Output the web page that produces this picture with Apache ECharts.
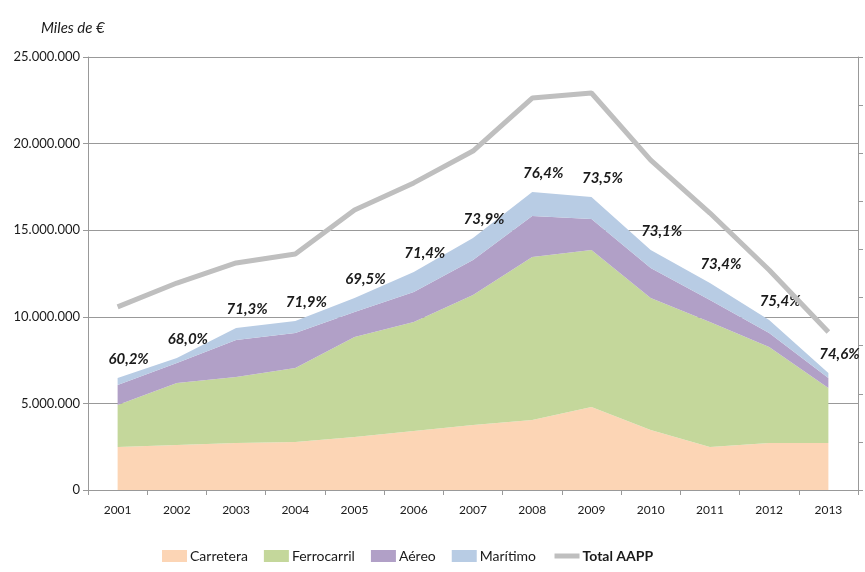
<!DOCTYPE html>
<html>
<head>
<meta charset="utf-8">
<script src="https://cdn.jsdelivr.net/npm/echarts@6/dist/echarts.min.js"></script>
<style>
  html, body { margin: 0; padding: 0; background: #fff; }
  #main { width: 865px; height: 572px; }
</style>
</head>
<body>
<div id="main"></div>
<script>
// years on the x axis
var years = ['2001', '2002', '2003', '2004', '2005', '2006', '2007', '2008', '2009', '2010', '2011', '2012', '2013'];

// miles de euros
var carretera   = [2480000, 2600000, 2710000, 2770000, 3060000, 3410000, 3750000, 4040000, 4790000, 3460000, 2480000, 2710000, 2710000];
var ferrocarril = [2430000, 3580000, 3810000, 4270000, 5770000, 6290000, 7510000, 9410000, 9070000, 7630000, 7220000, 5550000, 3180000];
var aereo       = [1150000, 1150000, 2140000, 2020000, 1450000, 1730000, 2020000, 2370000, 1790000, 1730000, 1270000, 800000, 580000];
var maritimo    = [410000, 290000, 690000, 700000, 810000, 1160000, 1270000, 1390000, 1270000, 1040000, 980000, 760000, 290000];
var totalAAPP   = [10570000, 11950000, 13110000, 13630000, 16170000, 17730000, 19570000, 22630000, 22920000, 19050000, 15990000, 12700000, 9120000];

// share labels shown above the stack
var pct = ['60,2%', '68,0%', '71,3%', '71,9%', '69,5%', '71,4%', '73,9%', '76,4%', '73,5%', '73,1%', '73,4%', '75,4%', '74,6%'];

var chart = echarts.init(document.getElementById('main'));

var fontFam = 'Lato, "Open Sans", sans-serif';

function fmtMiles(v) {
    return String(v).replace(/\B(?=(\d{3})+(?!\d))/g, '.');
}

function areaSeries(name, data, color) {
    return {
        name: name,
        type: 'line',
        stack: 'modos',
        data: data,
        symbol: 'none',
        lineStyle: { width: 0 },
        areaStyle: { color: color, opacity: 1 },
        itemStyle: { color: color },
        emphasis: { disabled: true }
    };
}

var series = [
    areaSeries('Carretera', carretera, '#fcd5b5'),
    areaSeries('Ferrocarril', ferrocarril, '#c4d79b'),
    areaSeries('Aéreo', aereo, '#b1a0c7'),
    areaSeries('Marítimo', maritimo, '#b8cce4'),
    {
        name: 'Total AAPP',
        type: 'line',
        data: totalAAPP,
        symbol: 'none',
        lineStyle: { color: '#bfbfbf', width: 5 },
        itemStyle: { color: '#bfbfbf' },
        z: 5
    }
];

// percentage labels sit on top of the Marítimo band (invisible symbols carry them)
series[3].symbol = 'circle';
series[3].symbolSize = 0;
series[3].showSymbol = true;
series[3].label = {
    show: true,
    position: 'top',
    distance: 11,
    offset: [11, 0],
    formatter: function (p) { return pct[p.dataIndex]; },
    fontFamily: fontFam,
    fontStyle: 'italic',
    fontWeight: 'bold',
    fontSize: 15,
    color: '#1a1a1a'
};

option = {
    animation: false,
    title: {
        text: 'Miles de €',
        left: 36,
        top: 16,
        textStyle: {
            fontFamily: fontFam,
            fontStyle: 'italic',
            fontWeight: 'normal',
            fontSize: 15,
            color: '#1a1a1a'
        }
    },
    grid: { left: 88, right: 7, top: 57, bottom: 82 },
    legend: {
        left: 157,
        bottom: 4,
        itemWidth: 25,
        itemHeight: 12,
        itemGap: 16,
        textStyle: { fontFamily: fontFam, fontSize: 14, color: '#1a1a1a', padding: [0, 0, 0, -2] },
        data: [
            { name: 'Carretera', icon: 'rect' },
            { name: 'Ferrocarril', icon: 'rect' },
            { name: 'Aéreo', icon: 'rect' },
            { name: 'Marítimo', icon: 'rect' },
            {
                name: 'Total AAPP',
                itemStyle: { opacity: 0 },
                lineStyle: { color: '#bfbfbf', width: 5 },
                textStyle: { fontWeight: 'bold' }
            }
        ]
    },
    xAxis: {
        type: 'category',
        data: years,
        boundaryGap: true,
        axisLine: { lineStyle: { color: '#999', width: 1 } },
        axisTick: { show: true, length: 5, lineStyle: { color: '#999' } },
        axisLabel: { fontFamily: fontFam, fontSize: 12, color: '#1a1a1a', margin: 14 }
    },
    yAxis: [
        {
            type: 'value',
            min: 0,
            max: 25000000,
            interval: 5000000,
            axisLine: { show: true, lineStyle: { color: '#999' } },
            axisTick: { show: true, length: 5, lineStyle: { color: '#999' } },
            splitLine: { lineStyle: { color: '#999', width: 1 } },
            axisLabel: {
                fontFamily: fontFam,
                fontSize: 13,
                color: '#1a1a1a',
                margin: 8,
                formatter: fmtMiles
            }
        },
        {
            type: 'value',
            min: 0,
            max: 90,
            interval: 10,
            position: 'right',
            axisLine: { show: true, lineStyle: { color: '#999' } },
            axisTick: { show: true, length: 5, lineStyle: { color: '#999' } },
            splitLine: { show: false },
            axisLabel: { show: false }
        }
    ],
    series: series
};

chart.setOption(option);
</script>
</body>
</html>
